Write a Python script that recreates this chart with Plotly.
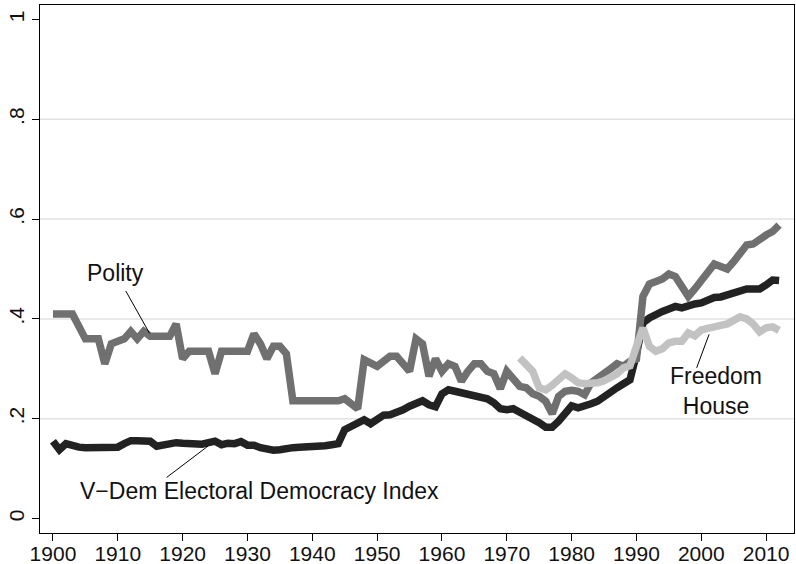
import plotly.graph_objects as go

years = list(range(1900, 2013))

polity = [
    0.41, 0.41, 0.41, 0.41, 0.385, 0.36, 0.36, 0.36, 0.31, 0.35,      # 1900-1909
    0.355, 0.36, 0.375, 0.36, 0.375, 0.365, 0.365, 0.365, 0.365, 0.39, # 1910-1919
    0.32, 0.335, 0.335, 0.335, 0.335, 0.29, 0.335, 0.335, 0.335, 0.335, # 1920-1929
    0.335, 0.37, 0.35, 0.32, 0.345, 0.345, 0.33, 0.236, 0.236, 0.236,  # 1930-1939
    0.236, 0.236, 0.236, 0.236, 0.236, 0.24, 0.23, 0.22, 0.318, 0.31,  # 1940-1949
    0.305, 0.315, 0.325, 0.325, 0.31, 0.295, 0.36, 0.35, 0.285, 0.32,  # 1950-1959
    0.295, 0.31, 0.305, 0.275, 0.295, 0.31, 0.31, 0.295, 0.29, 0.26,   # 1960-1969
    0.295, 0.28, 0.265, 0.262, 0.25, 0.245, 0.235, 0.21, 0.245, 0.255, # 1970-1979
    0.257, 0.255, 0.248, 0.272, 0.28, 0.29, 0.3, 0.31, 0.305, 0.315,   # 1980-1989
    0.32, 0.445, 0.47, 0.475, 0.48, 0.49, 0.485, 0.465, 0.445, 0.46,   # 1990-1999
    0.475, 0.49, 0.51, 0.505, 0.5, 0.515, 0.53, 0.548, 0.55, 0.56,     # 2000-2009
    0.568, 0.575, 0.588,                                               # 2010-2012
]

vdem = [
    0.155, 0.138, 0.15, 0.145, 0.143, 0.142, 0.142, 0.142, 0.142, 0.142, # 1900-1909
    0.143, 0.15, 0.156, 0.156, 0.155, 0.155, 0.145, 0.148, 0.152, 0.152, # 1910-1919
    0.151, 0.15, 0.149, 0.149, 0.152, 0.155, 0.148, 0.151, 0.15, 0.154,  # 1920-1929
    0.147, 0.147, 0.142, 0.138, 0.137, 0.138, 0.141, 0.142, 0.143, 0.143, # 1930-1939
    0.144, 0.145, 0.146, 0.148, 0.15, 0.178, 0.185, 0.192, 0.198, 0.19,  # 1940-1949
    0.2, 0.207, 0.208, 0.212, 0.218, 0.225, 0.232, 0.236, 0.228, 0.224, # 1950-1959
    0.25, 0.258, 0.255, 0.252, 0.25, 0.248, 0.245, 0.24, 0.232, 0.22,   # 1960-1969
    0.218, 0.22, 0.213, 0.207, 0.2, 0.192, 0.183, 0.183, 0.195, 0.21,   # 1970-1979
    0.226, 0.222, 0.225, 0.23, 0.235, 0.245, 0.252, 0.262, 0.27, 0.278, # 1980-1989
    0.33, 0.392, 0.402, 0.41, 0.415, 0.42, 0.425, 0.422, 0.427, 0.43,   # 1990-1999
    0.432, 0.438, 0.443, 0.444, 0.448, 0.453, 0.457, 0.46, 0.46, 0.46,  # 2000-2009
    0.468, 0.478, 0.477,                                                # 2010-2012
]

fh_years = list(range(1972, 2013))
freedom_house = [
    0.322, 0.31, 0.295, 0.262, 0.258, 0.267, 0.28, 0.29,               # 1972-1979
    0.282, 0.272, 0.27, 0.27, 0.272, 0.276, 0.282, 0.29, 0.302, 0.306, # 1980-1989
    0.345, 0.382, 0.345, 0.335, 0.34, 0.352, 0.355, 0.355, 0.372, 0.366, # 1990-1999
    0.378, 0.382, 0.384, 0.387, 0.39, 0.398, 0.404, 0.4, 0.39, 0.374,  # 2000-2009
    0.382, 0.384, 0.377,                                               # 2010-2012
]

x_ticks = list(range(1900, 2011, 10))
y_ticks = [0, 0.2, 0.4, 0.6, 0.8, 1.0]
y_tick_labels = ["0", ".2", ".4", ".6", ".8", "1"]
grid_levels = [0.2, 0.4, 0.6, 0.8]

LW = 7.5
fig = go.Figure()
fig.add_trace(go.Scatter(x=years, y=vdem, mode="lines",
                         line=dict(color="#222222", width=LW), name="V-Dem"))
fig.add_trace(go.Scatter(x=years, y=polity, mode="lines",
                         line=dict(color="#707070", width=LW), name="Polity"))
fig.add_trace(go.Scatter(x=fh_years, y=freedom_house, mode="lines",
                         line=dict(color="#c2c2c2", width=LW), name="Freedom House"))

shapes = []
for g in grid_levels:
    shapes.append(dict(type="line", xref="paper", x0=0, x1=1, yref="y", y0=g, y1=g,
                       line=dict(color="#e2e2e2", width=1.5), layer="below"))

label_font = dict(family="Liberation Sans, Arial, sans-serif", size=23, color="#111111")
annotations = [
    dict(x=1909.7, y=0.491, xref="x", yref="y", text="Polity", showarrow=False, font=label_font),
    dict(x=1914.9, y=0.371, ax=1911.1, ay=0.459, xref="x", yref="y", axref="x", ayref="y",
         text="", showarrow=True, arrowhead=0, arrowwidth=1, arrowcolor="#000000"),
    dict(x=1931.8, y=0.055, xref="x", yref="y",
         text="V\u2212Dem Electoral Democracy Index", showarrow=False, font=label_font),
    dict(x=1923.9, y=0.145, ax=1917.3, ay=0.08, xref="x", yref="y", axref="x", ayref="y",
         text="", showarrow=True, arrowhead=0, arrowwidth=1, arrowcolor="#000000"),
    dict(x=2002.2, y=0.256, xref="x", yref="y", text="Freedom<br>House", showarrow=False,
         font=label_font),
    dict(x=2001.2, y=0.369, ax=1999.2, ay=0.299, xref="x", yref="y", axref="x", ayref="y",
         text="", showarrow=True, arrowhead=0, arrowwidth=1, arrowcolor="#000000"),
]

tick_font = dict(family="Liberation Sans Narrow, Liberation Sans, Arial, sans-serif",
                 size=21, color="#111111")

fig.update_layout(
    width=796, height=564,
    margin=dict(l=40, r=2, t=5, b=31),
    paper_bgcolor="white", plot_bgcolor="white",
    showlegend=False,
    shapes=shapes,
    annotations=annotations,
    xaxis=dict(range=[1898, 2014.3], tickvals=x_ticks, ticks="outside", ticklen=7,
               tickcolor="#000000", showgrid=False, zeroline=False, automargin=False,
               showline=True, linecolor="#000000", linewidth=1.2, mirror=True,
               tickfont=tick_font, ticklabelstandoff=-5),
    yaxis=dict(range=[-0.029, 1.029], tickvals=y_ticks, ticktext=y_tick_labels,
               ticks="outside", ticklen=7, tickcolor="#000000", tickangle=-90,
               showgrid=False, zeroline=False, automargin=False,
               showline=True, linecolor="#000000", linewidth=1.2, mirror=True,
               tickfont=tick_font),
)

fig.write_html("out.html", config={"displayModeBar": False},
               post_script="document.body.style.margin='0';document.body.style.padding='0';")
